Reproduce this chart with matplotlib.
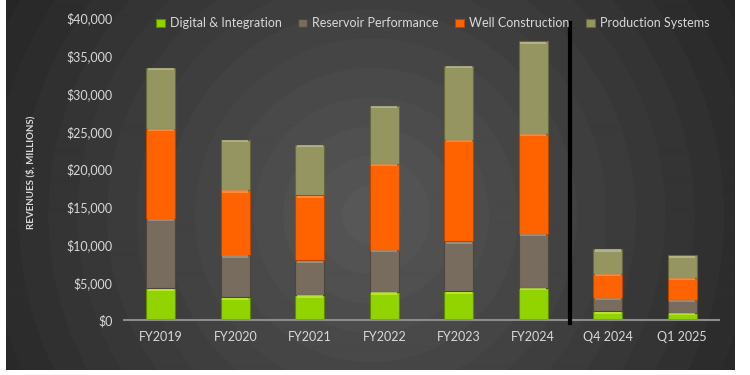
import numpy as np
import matplotlib
matplotlib.use("Agg")
import matplotlib.pyplot as plt
from matplotlib.colors import to_rgb

plt.rcParams['font.family'] = ['Lato', 'DejaVu Sans']

# data ($ millions)
categories = ["FY2019", "FY2020", "FY2021", "FY2022", "FY2023", "FY2024", "Q4 2024", "Q1 2025"]
digital = [4200, 3000, 3300, 3700, 3800, 4300, 1150, 970]
reservoir = [9200, 5600, 4600, 5600, 6600, 7100, 1800, 1700]
well = [11900, 8600, 8600, 11400, 13500, 13300, 3150, 2950]
production = [8100, 6700, 6700, 7700, 9800, 12200, 3300, 2950]
series_names = ["Digital & Integration", "Reservoir Performance", "Well Construction", "Production Systems"]
yticks = [0, 5000, 10000, 15000, 20000, 25000, 30000, 35000, 40000]

colors = ["#92d400", "#776c5d", "#ff6300", "#959562"]
tops = ["#c8f040", "#a89c8c", "#ff9a50", "#c0c094"]
edges = ["#5f8a00", "#4e463c", "#b84500", "#66663f"]

fig = plt.figure(figsize=(7.5, 3.75), dpi=100)
fig.patch.set_facecolor("white")

# radial background
bg = fig.add_axes([0.008, 0.0133, 0.972, 0.9867])
bg.set_axis_off()
h, w = 370, 729
yy, xx = np.mgrid[0:h, 0:w]
r = np.sqrt((xx - 365) ** 2 + (yy - 215) ** 2) / 470.0
r = np.clip(r, 0, 1)
r = np.floor(r * 16) / 16
c0 = np.array(to_rgb("#575757"))
c1 = np.array(to_rgb("#1f1f1f"))
img = c0[None, None, :] * (1 - r[..., None]) + c1[None, None, :] * r[..., None]
bg.imshow(img, aspect="auto", extent=[0, 1, 0, 1], interpolation="bilinear")
bg.set_xlim(0, 1)
bg.set_ylim(0, 1)

ax = fig.add_axes([0.165, 0.1467, 0.794, 0.8053])
ax.patch.set_alpha(0)
x = np.arange(len(categories))
width = 0.39
bottom = np.zeros(len(categories))
handles = []
for vals, name, c, tc, ec in zip([digital, reservoir, well, production], series_names, colors, tops, edges):
    vals = np.array(vals, dtype=float)
    b = ax.bar(x, vals, width, bottom=bottom, color=c, edgecolor=ec, linewidth=0.8, label=name, zorder=3)
    handles.append(b)
    # bevel highlight on top of each segment
    ax.bar(x, np.full(len(x), 300.0), width * 0.9, bottom=bottom + vals - 330, color=tc, linewidth=0, alpha=0.7, zorder=4)
    bottom += vals

ax.set_xlim(-0.5, len(categories) - 0.5)
ax.set_ylim(0, 40000)
ax.set_yticks(yticks)
ax.set_yticklabels(["${:,}".format(v) for v in yticks])
ax.set_xticks(x)
ax.set_xticklabels(categories)
ax.tick_params(axis="both", length=0, colors="#d9d9d9", labelsize=9)
ax.tick_params(axis="y", pad=8)
ax.tick_params(axis="x", pad=8)
for s in ["top", "right", "left"]:
    ax.spines[s].set_visible(False)
ax.spines["bottom"].set_color("#8c8c8c")
ax.spines["bottom"].set_linewidth(1.5)
ax.spines["bottom"].set_zorder(5)

# divider between fiscal years and quarters
ax.plot([5.5, 5.5], [-400, 39300], color="black", linewidth=3, clip_on=False, zorder=6)

fig.text(0.041, 0.541, "REVENUES ($, MILLIONS)", rotation=90, color="#d9d9d9", fontsize=7,
         fontweight="bold", ha="center", va="center")

leg = fig.legend(handles=handles, labels=series_names, loc="center", bbox_to_anchor=(0.577, 0.938), ncol=4,
                 frameon=False, fontsize=9, labelcolor="#d9d9d9", handlelength=0.7, handleheight=0.7,
                 handletextpad=0.4, columnspacing=1.35)

fig.savefig("out.png", dpi=100, facecolor=fig.get_facecolor())
